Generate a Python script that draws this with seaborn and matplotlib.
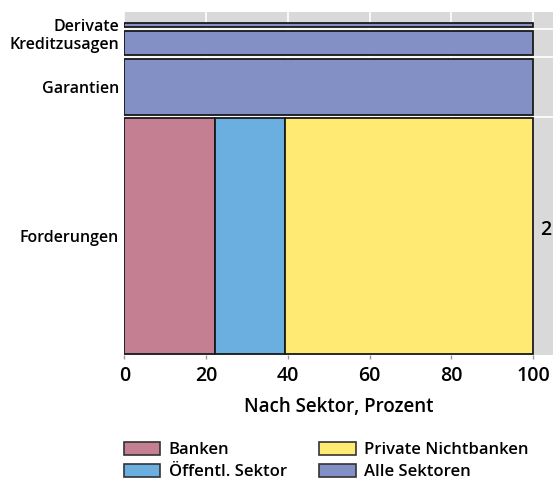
import matplotlib
matplotlib.use("Agg")
import matplotlib.pyplot as plt
import seaborn as sns
import numpy as np
import pandas as pd
from matplotlib.patches import Patch

# ---- data ----
categories = ["Forderungen", "Garantien", "Kreditzusagen", "Derivate"]
volume_share = [73.7, 17.5, 7.5, 1.3]          # row heights (share of volume)
sectors = ["Banken", "Öffentl. Sektor", "Private Nichtbanken", "Alle Sektoren"]
banken = [22.2, 0, 0, 0]
oeffentl = [17.1, 0, 0, 0]
private = [60.7, 0, 0, 0]
alle = [0, 100, 100, 100]
x_ticks = [0, 20, 40, 60, 80, 100]
x_label = "Nach Sektor, Prozent"
colors = {"Banken": "#C48092", "Öffentl. Sektor": "#6BAFE1",
          "Private Nichtbanken": "#FFEB74", "Alle Sektoren": "#8290C6"}

sns.set_theme(style="darkgrid")
plt.rcParams["font.family"] = ["Open Sans", "DejaVu Sans"]
plt.rcParams["text.color"] = "black"
plt.rcParams["axes.labelcolor"] = "black"
plt.rcParams["xtick.labelcolor"] = "black"
plt.rcParams["ytick.labelcolor"] = "black"

fig = plt.figure(figsize=(5.53, 4.84), dpi=100)
ax = fig.add_axes([124.5 / 553, 1 - 355 / 484, 1 - 124.5 / 553, (355 - 12) / 484])
ax.set_facecolor("#D9D9D9")

gap = 1.2
bottoms = []
y = 0.0
for h in volume_share:
    bottoms.append(y)
    y += h + gap
top = y - gap

df = pd.DataFrame({"cat": categories, "h": volume_share, "b": bottoms,
                   "Banken": banken, "Öffentl. Sektor": oeffentl,
                   "Private Nichtbanken": private, "Alle Sektoren": alle})

for _, row in df.iterrows():
    left = 0.0
    for s in sectors:
        w = row[s]
        if w > 0:
            ax.barh(row["b"], w, height=row["h"], left=left, align="edge",
                    color=colors[s], edgecolor="#1a1a1a", linewidth=1.3, zorder=3)
            left += w

# white separators between rows
for i in range(1, len(bottoms)):
    ax.axhline(bottoms[i] - gap / 2, color="white", lw=1.2, zorder=1)

ax.set_xlim(0, 104.9)
ax.set_ylim(-0.3, top + 3.4)
ax.set_xticks(x_ticks)
ax.set_xticklabels([str(t) for t in x_ticks], fontsize=14, fontweight="semibold")
ax.grid(axis="x", color="white", lw=1.2, zorder=0)
ax.grid(axis="y", visible=False)
centers = [b + h / 2 for b, h in zip(bottoms, volume_share)]
ax.set_yticks(centers)
ax.set_yticklabels(categories, fontsize=11.5, fontweight="semibold")
ax.tick_params(axis="y", length=0, pad=4)
ax.tick_params(axis="x", length=3, color="#999999", width=1, pad=5, bottom=True)
ax.set_xlabel(x_label, fontsize=13.5, fontweight="semibold", labelpad=8)
for sp in ax.spines.values():
    sp.set_visible(False)

fig.text(540 / 553, 1 - 230 / 484, "2", fontsize=14, fontweight="semibold",
         va="center", ha="left")

handles = [Patch(facecolor=colors[s], edgecolor="#333333", linewidth=1.2) for s in sectors]
fig.legend(handles, sectors, loc="upper left", bbox_to_anchor=(117 / 553, 1 - 435 / 484),
           ncol=2, frameon=False, handlelength=2.2, handleheight=0.85,
           columnspacing=1.95, labelspacing=0.35, handletextpad=0.5,
           borderaxespad=0, prop={"weight": "semibold", "size": 12})

fig.savefig("out.png", dpi=100)
